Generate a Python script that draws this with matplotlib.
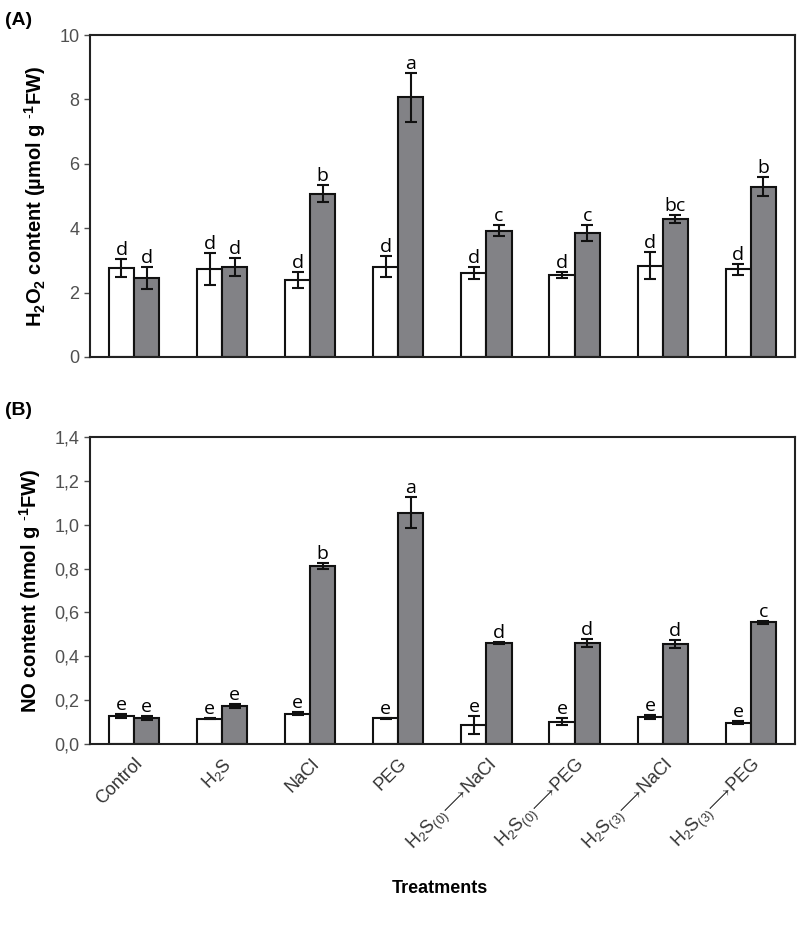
import numpy as np
import matplotlib.pyplot as plt

treatments = ['Control', 'H$_2$S', 'NaCl', 'PEG',
              'H$_2$S$_{(0)}\\!\\longrightarrow\\!$NaCl',
              'H$_2$S$_{(0)}\\!\\longrightarrow\\!$PEG',
              'H$_2$S$_{(3)}\\!\\longrightarrow\\!$NaCl',
              'H$_2$S$_{(3)}\\!\\longrightarrow\\!$PEG']

# panel A: H2O2 content
h2o2_white = [2.76, 2.72, 2.40, 2.80, 2.60, 2.54, 2.83, 2.72]
h2o2_white_err = [0.27, 0.50, 0.25, 0.33, 0.18, 0.10, 0.42, 0.17]
h2o2_grey = [2.45, 2.78, 5.07, 8.06, 3.92, 3.86, 4.29, 5.29]
h2o2_grey_err = [0.35, 0.28, 0.26, 0.75, 0.17, 0.25, 0.13, 0.30]
h2o2_white_let = ['d'] * 8
h2o2_grey_let = ['d', 'd', 'b', 'a', 'c', 'c', 'bc', 'b']

# panel B: NO content
no_white = [0.127, 0.116, 0.138, 0.118, 0.088, 0.102, 0.123, 0.097]
no_white_err = [0.008, 0.003, 0.007, 0.003, 0.040, 0.015, 0.008, 0.007]
no_grey = [0.118, 0.172, 0.812, 1.055, 0.462, 0.462, 0.458, 0.556]
no_grey_err = [0.009, 0.009, 0.015, 0.070, 0.005, 0.018, 0.018, 0.007]
no_white_let = ['e'] * 8
no_grey_let = ['e', 'e', 'b', 'a', 'd', 'd', 'd', 'c']

plt.rcParams['font.family'] = ['Liberation Sans', 'DejaVu Sans']
plt.rcParams['mathtext.fontset'] = 'custom'
plt.rcParams['mathtext.rm'] = 'Liberation Sans'
plt.rcParams['mathtext.bf'] = 'Liberation Sans:bold'

fig = plt.figure(figsize=(8, 9.26), dpi=100)
axA = fig.add_axes([0.1125, 0.6145, 0.881, 0.3477])
axB = fig.add_axes([0.1125, 0.1965, 0.881, 0.3315])

x = np.arange(len(treatments))
w = 0.285
grey = '#828286'
letter_font = ['Open Sans', 'DejaVu Sans']


def draw_panel(ax, white, werr, gvals, gerr, wlet, glet):
    ax.bar(x - w / 2, white, w, color='white', edgecolor='#111111', linewidth=1.5,
           yerr=werr, error_kw=dict(ecolor='#111111', elinewidth=1.5, capsize=4, capthick=1.5))
    ax.bar(x + w / 2, gvals, w, color=grey, edgecolor='#111111', linewidth=1.5,
           yerr=gerr, error_kw=dict(ecolor='#111111', elinewidth=1.5, capsize=4, capthick=1.5))
    for xi, v, e, t in zip(x - w / 2, white, werr, wlet):
        ax.annotate(t, (xi, v + e), xytext=(0, 0), textcoords='offset points',
                    ha='center', va='bottom', fontsize=14, family=letter_font)
    for xi, v, e, t in zip(x + w / 2, gvals, gerr, glet):
        ax.annotate(t, (xi, v + e), xytext=(0, 0), textcoords='offset points',
                    ha='center', va='bottom', fontsize=14, family=letter_font)
    ax.set_xlim(-0.5, len(treatments) - 0.5)
    for s in ax.spines.values():
        s.set_linewidth(1.5)
        s.set_color('#222222')
    ax.tick_params(axis='y', direction='out', length=4, width=1, labelsize=13,
                   labelcolor='#505050', color='#505050')
    ax.tick_params(axis='x', length=0)


draw_panel(axA, h2o2_white, h2o2_white_err, h2o2_grey, h2o2_grey_err,
           h2o2_white_let, h2o2_grey_let)
axA.set_ylim(0, 10)
axA.set_yticks([0, 2, 4, 6, 8, 10])
axA.set_xticks([])
axA.set_ylabel('H$_\\mathbf{2}$O$_\\mathbf{2}$ content (\u00b5mol g $^\\mathbf{\\text{-}1}$FW)',
               fontsize=14.5, fontweight='bold', labelpad=8)

draw_panel(axB, no_white, no_white_err, no_grey, no_grey_err,
           no_white_let, no_grey_let)
axB.set_ylim(0, 1.4)
yt = np.arange(0, 1.41, 0.2)
axB.set_yticks(yt)
axB.set_yticklabels([f'{v:.1f}'.replace('.', ',') for v in yt])
axB.set_xticks(x)
axB.set_xticklabels(treatments, rotation=45, ha='right', rotation_mode='anchor',
                    fontsize=13, color='#333333')
axB.tick_params(axis='x', pad=8)
axB.set_ylabel('NO content (nmol g $^\\mathbf{\\text{-}1}$FW)',
               fontsize=14.5, fontweight='bold', labelpad=8)

fig.text(0.006, 0.978, '(A)', fontsize=14, fontweight='bold', va='center')
fig.text(0.006, 0.557, '(B)', fontsize=14, fontweight='bold', va='center')
fig.text(0.55, 0.041, 'Treatments', fontsize=13, fontweight='bold', ha='center', va='center')

fig.savefig('out.png', dpi=100)
